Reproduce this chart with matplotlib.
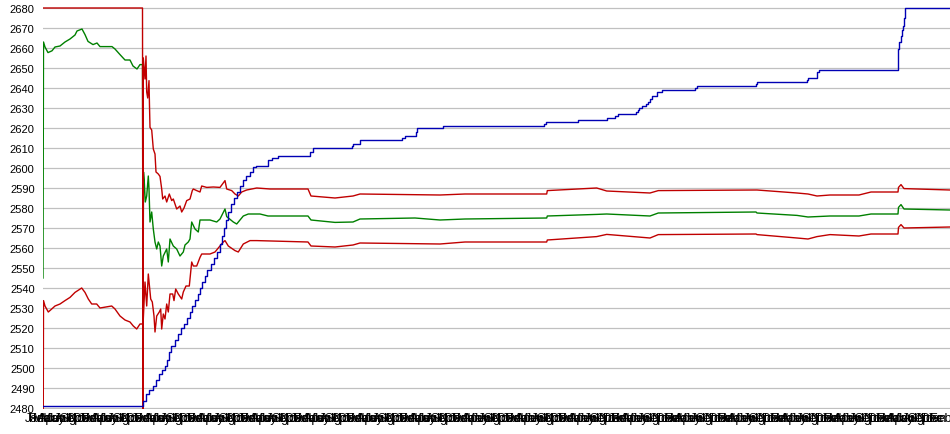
import numpy as np
import matplotlib
matplotlib.use("Agg")
import matplotlib.pyplot as plt
import matplotlib.transforms as mtransforms

plt.rcParams['font.family'] = ['Liberation Sans', 'DejaVu Sans']

# ---- data (time index, value) ----
blue_t = [0, 100, 103, 106, 110, 113, 116, 119, 122, 124, 126, 128, 132, 135, 138, 141, 144, 147, 149,
          152, 155, 157, 159, 162, 164, 168, 171, 174, 177, 179, 181, 183, 185, 188, 191, 194, 197, 200,
          203, 207, 210, 213, 225, 229, 235, 267, 270, 309, 310, 317, 359, 362, 373, 374, 400, 501, 503,
          535, 564, 572, 575, 593, 595, 596, 599, 603, 605, 607, 609, 614, 619, 652, 654, 713, 714, 764,
          765, 774, 776, 855, 856, 858, 859, 860, 861, 862, 907]
blue_v = [2481, 2483.5, 2487, 2489, 2491, 2494, 2497, 2499, 2501, 2504, 2508, 2511, 2514, 2517, 2520, 2522,
          2525, 2528, 2531, 2534, 2537, 2540, 2543, 2546, 2549, 2552, 2555, 2558, 2562, 2566, 2570, 2574,
          2578, 2582, 2585, 2588, 2591, 2594, 2596, 2598, 2600.5, 2601, 2604, 2605, 2606, 2608, 2610, 2611,
          2612, 2614, 2615, 2616, 2618, 2620, 2621, 2622, 2623, 2624, 2625, 2626, 2627, 2628, 2629, 2630,
          2631, 2632, 2633, 2634.5, 2636, 2638, 2639, 2640, 2641, 2642, 2643, 2644, 2645, 2648, 2649,
          2659.5, 2663, 2666, 2669, 2671, 2675, 2680, 2680]

green_t = [0, 0.5, 2, 5, 9, 12, 17, 22, 27, 32, 34, 39, 42, 45, 50, 54, 57, 69, 72, 77, 82, 87, 90, 94, 97,
           99.5, 100, 100.5, 101.3, 102.3, 103.7, 105.3, 106, 107, 108.7, 110.3, 112, 113.7, 115.3, 117,
           118.7, 120.3, 123.7, 125.3, 127, 130.3, 133.7, 137, 140.3, 142, 145.3, 147, 148.7, 152, 155.3,
           157, 167, 173.7, 177, 182, 183.7, 190.3, 193.7, 197, 200.3, 205.3, 217, 225, 265, 268, 292, 310,
           317, 372, 397, 422, 503.7, 504.3, 553.7, 563.7, 607, 615.3, 713, 714, 754, 765, 787, 816, 828,
           855, 855.5, 858, 861, 907]
green_v = [2545, 2663, 2660.5, 2657.7, 2658.6, 2660.5, 2661, 2663, 2664.5, 2666.5, 2668.5, 2669.5, 2666.7,
           2663.3, 2661.7, 2662.5, 2660.7, 2660.7, 2659.5, 2656.7, 2654, 2654, 2651, 2649.5, 2651.7, 2651.7,
           2516, 2598, 2593, 2583, 2586, 2596, 2589.5, 2573, 2578, 2569.5, 2563, 2559.5, 2563, 2561, 2551,
           2556, 2559.5, 2553, 2564.5, 2561, 2559.5, 2556, 2558, 2561.5, 2563, 2564.5, 2573, 2569.5, 2568,
           2574, 2574, 2573, 2574.5, 2579.5, 2575.7, 2573, 2572, 2574, 2576, 2577, 2577, 2576, 2576, 2574,
           2572.8, 2573, 2574.5, 2575, 2574, 2574.5, 2575, 2576, 2576.8, 2577, 2576, 2577.5, 2578, 2577.5,
           2576.3, 2575.5, 2576, 2576, 2577, 2577, 2580.3, 2581.7, 2579.5, 2579]

upper_t = [0, 99.5, 100, 100.3, 102, 103, 103.7, 104.7, 106, 106.5, 107, 108.7, 110.3, 112, 113, 115.3, 117,
           118.7, 119.7, 122, 123.7, 126.3, 128.7, 130.3, 132, 133.7, 137, 138.7, 141, 143.7, 147, 149.3,
           150.3, 153.7, 157, 158.7, 163.7, 170.3, 177, 182, 183.7, 188.7, 192, 195.3, 198.7, 203.7, 213.7,
           227, 265, 268, 292, 310, 317, 397, 422, 503.7, 504.3, 553.7, 563.7, 607, 615.3, 713, 714, 754,
           765, 774, 787, 816, 828, 855, 855.5, 858, 861, 907]
upper_v = [2680, 2680, 2470, 2655, 2644.5, 2656, 2638, 2635, 2643.7, 2631, 2620.3, 2619, 2609.5, 2607, 2598,
           2597, 2595.8, 2589.5, 2584.5, 2586, 2583, 2587, 2583.7, 2584.5, 2582, 2579.5, 2581, 2578, 2580,
           2583.7, 2584.5, 2588.7, 2589.5, 2588.7, 2588, 2591, 2590.3, 2590.5, 2590.3, 2593.7, 2589.5,
           2588.7, 2587, 2586, 2588, 2589, 2590, 2589.5, 2589.5, 2586, 2585, 2586, 2587, 2586.5, 2587,
           2587, 2588.7, 2590, 2588.5, 2587.5, 2588.7, 2589, 2589, 2587.5, 2587, 2586, 2586.5, 2586.5,
           2588, 2588, 2590.3, 2591.7, 2589.7, 2589]

lower_t = [0, 0.5, 2, 5.3, 8.7, 12, 17, 22, 27, 32, 38.7, 42, 45.3, 48.7, 53.7, 57, 68.7, 72, 77, 82, 87,
           90.3, 93.7, 97, 99.5, 100.3, 102, 103.7, 105.3, 107.7, 109.3, 111, 112, 113.7, 116.3, 117.7,
           118.7, 120.3, 122, 123.7, 125.3, 127, 129.7, 131, 132.7, 135.3, 138.7, 140.3, 143, 146.3, 148.7,
           150.3, 153.7, 157, 158.7, 167, 172, 175.3, 180.3, 182, 185.3, 192, 195.3, 200.3, 207, 213.7,
           265, 268, 292, 310, 317, 397, 422, 503.7, 504.3, 553.7, 563.7, 607, 615.3, 713, 714, 754, 765,
           774, 787, 816, 828, 855, 855.5, 858, 861, 907]
lower_v = [2416, 2533.7, 2531, 2528, 2529.5, 2531, 2532, 2533.7, 2535.3, 2537.8, 2540, 2537.8, 2534.5,
           2532, 2532, 2530, 2531, 2529.5, 2526, 2524, 2523, 2521, 2519.5, 2522, 2522, 2524.5, 2543, 2531,
           2547, 2534.5, 2533, 2526, 2518, 2526, 2528, 2529.5, 2519.5, 2527, 2524.5, 2532, 2528, 2537,
           2537, 2533.7, 2539.5, 2537, 2534.5, 2538, 2541, 2541, 2553, 2551, 2551, 2555.3, 2557, 2557,
           2558, 2560, 2563, 2563.7, 2561, 2558.7, 2558, 2562, 2563.7, 2563.7, 2563, 2561, 2560.5, 2561.5,
           2562.5, 2562, 2563, 2563, 2564, 2565.7, 2566.8, 2565, 2566.7, 2567, 2566.7, 2565, 2564.5,
           2565.7, 2566.7, 2566, 2567, 2567, 2570.3, 2571.7, 2570, 2570.5]

month_names = ['Jan', 'Feb', 'Mar', 'Apr', 'May', 'Jun', 'Jul', 'Aug', 'Sep', 'Oct', 'Nov', 'Dec']
y_ticks = list(range(2480, 2681, 10))

# ---- figure ----
W, H = 950, 435
fig = plt.figure(figsize=(W / 100, H / 100), dpi=100)
top_px, bot_px = 8, 410
ax = fig.add_axes([43 / W, 1 - bot_px / H, 1 - 43 / W, (bot_px - top_px) / H])

RED = '#C00000'
GREEN = '#008000'
BLUE = '#0000B4'

ax.plot(green_t, green_v, color=GREEN, lw=1.0, zorder=3)
ax.plot(upper_t, upper_v, color=RED, lw=1.0, zorder=4)
ax.plot(lower_t, lower_v, color=RED, lw=1.0, zorder=4)
ax.plot(blue_t, blue_v, color=BLUE, lw=1.0, drawstyle='steps-post', zorder=5)

ax.set_xlim(0, 907)
ax.set_ylim(2479.5, 2680.5)
ax.set_yticks(y_ticks)
ax.set_yticklabels([str(v) for v in y_ticks])
ax.yaxis.grid(True, color='#C0C0C0', lw=0.9)
ax.set_axisbelow(True)
for s in ax.spines.values():
    s.set_visible(False)

step = 4.42
xt = np.arange(0, 907, step)
ax.set_xticks(xt)
ax.set_xticklabels([month_names[i % 12] for i in range(len(xt))])
ax.tick_params(axis='y', length=0, labelsize=8, colors='black', pad=6)
ax.tick_params(axis='x', length=0, labelsize=9, colors='black', pad=2.5)
shift = mtransforms.ScaledTranslation(-8 / 100, 0, fig.dpi_scale_trans)
for lbl in ax.get_xticklabels():
    lbl.set_transform(lbl.get_transform() + shift)

fig.savefig('out.png', dpi=100)
